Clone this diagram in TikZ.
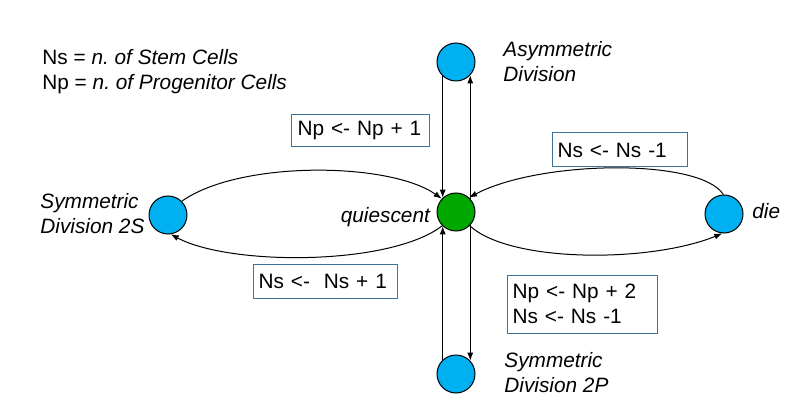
\documentclass[tikz,border=0pt]{standalone}
\usepackage{fontspec}
\setmainfont{Liberation Sans}
\usetikzlibrary{arrows.meta}
\definecolor{cellblue}{RGB}{0,176,240}
\definecolor{cellgreen}{RGB}{0,168,0}
\definecolor{boxedge}{RGB}{60,115,150}
\frenchspacing
\begin{document}
\begin{tikzpicture}[x=0.5pt,y=-0.5pt,
  every node/.style={font=\fontsize{10.4pt}{12.5pt}\selectfont},
  cell/.style={circle,draw=black,line width=0.5pt,minimum size=19pt,inner sep=0pt,fill=cellblue},
  qcell/.style={cell,fill=cellgreen},
  rulebox/.style={draw=boxedge,line width=0.5pt,rectangle,align=left,inner xsep=2.8pt,inner ysep=0pt},
  lbl/.style={inner sep=0pt,align=left},
  conn/.style={line width=0.5pt,-{Latex[length=4pt,width=3pt]}}]
\useasboundingbox (0,0) rectangle (795,416);

% cells
\node[cell] (top) at (456,62) {};
\node[qcell] (q) at (456,212) {};
\node[cell] (L) at (168,215) {};
\node[cell] (R) at (724,214) {};
\node[cell] (B) at (456,374) {};

% labels
\node[lbl,anchor=west] (legend) at (42,72) {Ns = \textit{n. of Stem Cells}\\Np = \textit{n. of Progenitor Cells}};
\node[lbl,anchor=west] (asym) at (503,62) {\textit{Asymmetric}\\\textit{Division}};
\node[lbl,anchor=west] (sym2s) at (40,214) {\textit{Symmetric}\\\textit{Division 2S}};
\node[lbl,anchor=base east] (quies) at (431,223) {\textit{quiescent}};
\node[lbl,anchor=base west] (die) at (752,219) {\textit{die}};
\node[lbl,anchor=west] (sym2p) at (504,373) {\textit{Symmetric}\\\textit{Division 2P}};

% rule boxes
\node[rulebox,text width=63pt,minimum height=16pt] (b1) at (360.5,131) {Np <- Np + 1};
\node[rulebox,text width=61.9pt,minimum height=17pt] (b2) at (619.5,150) {Ns <- Ns -1};
\node[rulebox,text width=66.4pt,minimum height=17pt] (b3) at (325,281) {Ns <-~ Ns + 1};
\node[rulebox,text width=69.4pt,minimum height=29pt] (b4) at (582,304) {Np <- Np + 2\\Ns <- Ns -1};

% vertical connectors
\draw[conn] (top.-133) -- (q.133);
\draw[conn] (q.43) -- (top.-43);
\draw[conn] (B.133) -- (q.-133);
\draw[conn] (q.-43) -- (B.43);

% left loop
\draw[conn] (L.45) .. controls (240,160) and (390,162) .. (q.137);
\draw[conn] (q.-135) .. controls (390,266) and (230,266) .. (L.-82);

% right loop
\draw[conn] (R.92) .. controls (700,158) and (540,160) .. (q.48);
\draw[conn] (q.-45) .. controls (510,263) and (650,263) .. (R.-95);
\end{tikzpicture}
\end{document}
